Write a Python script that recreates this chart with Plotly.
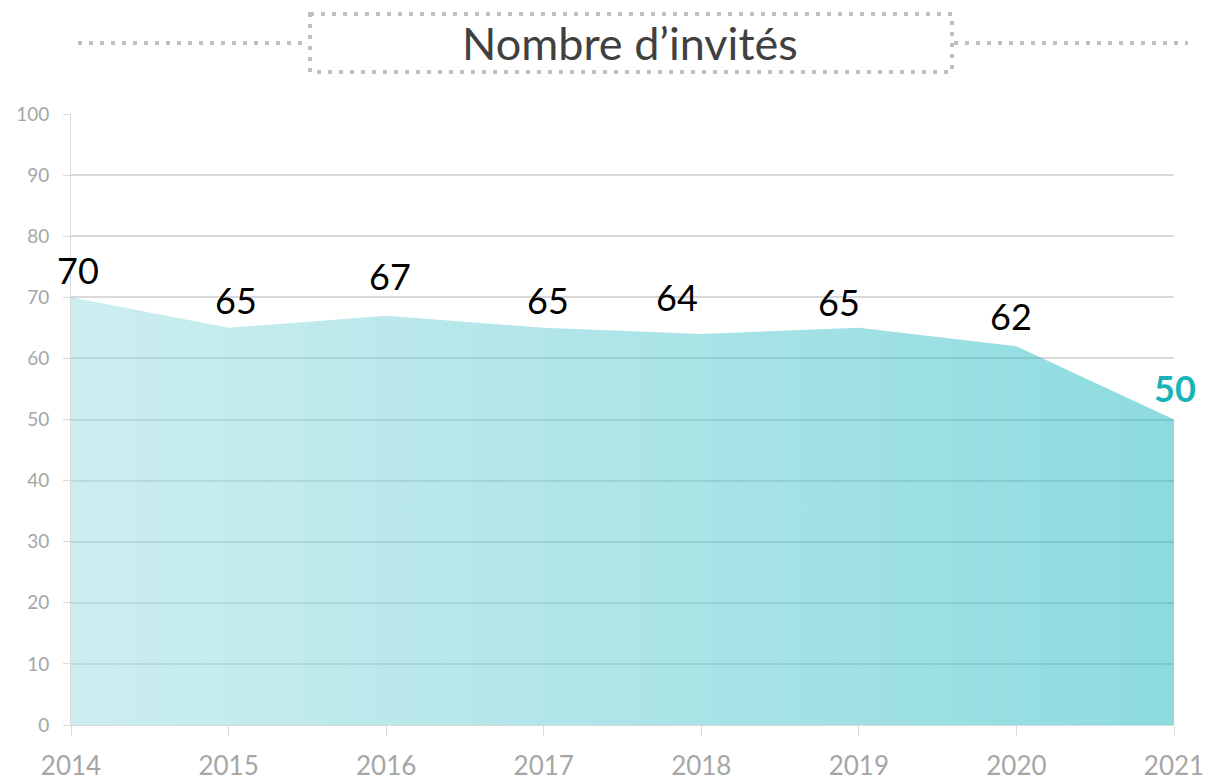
import plotly.graph_objects as go

years = [2014, 2015, 2016, 2017, 2018, 2019, 2020, 2021]
guests = [70, 65, 67, 65, 64, 65, 62, 50]
title_text = "Nombre d’invités"

# label offsets in px (dx, dy) relative to the point
label_dx = [7, 7, 4, 4, -24, -20, -5, 1]
label_dy = [27, 28, 40, 28, 37, 26, 30, 32]

W, H = 1210, 781
ML, MR, MT, MB = 71, 36, 114, 56
PW, PH = W - ML - MR, H - MT - MB

def px_x(p):
    return (p - ML) / PW

def px_y(p):
    return (H - MB - p) / PH

fig = go.Figure()
fig.add_trace(go.Scatter(
    x=years, y=guests, mode="lines", fill="tozeroy",
    line=dict(width=0, color="rgba(0,0,0,0)"),
    fillgradient=dict(
        type="horizontal",
        colorscale=[[0, "rgba(155,221,225,0.5)"], [1, "rgba(27,183,191,0.5)"]],
    ),
    hoverinfo="x+y", showlegend=False,
))

annotations = []
for i, (yr, v) in enumerate(zip(years, guests)):
    last = i == len(years) - 1
    annotations.append(dict(
        x=yr, y=v, xref="x", yref="y", text=f"<b>{v}</b>" if last else str(v),
        showarrow=False, xanchor="center", yanchor="middle",
        xshift=label_dx[i], yshift=label_dy[i],
        font=dict(family="Lato", size=36, color="#1ab3b8" if last else "#000000"),
    ))

annotations.append(dict(
    x=px_x(630), y=px_y(43), xref="paper", yref="paper", text=title_text,
    showarrow=False, xanchor="center", yanchor="middle",
    font=dict(family="Lato", size=45, color="#404040"),
))

dot = dict(color="#bfbfbf", width=4, dash="4px,7px")
shapes = [
    dict(type="rect", xref="paper", yref="paper",
         x0=px_x(310), x1=px_x(952), y0=px_y(14), y1=px_y(72), line=dot),
    dict(type="line", xref="paper", yref="paper",
         x0=px_x(78), x1=px_x(308), y0=px_y(43), y1=px_y(43), line=dot),
    dict(type="line", xref="paper", yref="paper",
         x0=px_x(954), x1=px_x(1188), y0=px_y(43), y1=px_y(43), line=dot),
]

fig.update_layout(
    width=W, height=H,
    margin=dict(l=ML, r=MR, t=MT, b=MB, autoexpand=False),
    plot_bgcolor="white", paper_bgcolor="white",
    annotations=annotations, shapes=shapes,
    xaxis=dict(
        range=[2014, 2021], tickmode="array", tickvals=years,
        ticktext=[str(y) for y in years],
        showgrid=False, zeroline=False, showline=True, linecolor="#d9d9d9", linewidth=1,
        ticks="outside", ticklen=10, tickcolor="#d9d9d9",
        ticklabelstandoff=8,
        tickfont=dict(family="Lato", size=26, color="#a6a6a6"),
    ),
    yaxis=dict(
        range=[0, 100], dtick=10, tick0=0,
        showgrid=True, gridcolor="#d9d9d9", gridwidth=1.5,
        zeroline=False, showline=True, linecolor="#d9d9d9", linewidth=1,
        ticks="outside", ticklen=7, tickcolor="#d9d9d9",
        ticklabelstandoff=10,
        tickfont=dict(family="Lato", size=19, color="#a6a6a6"),
    ),
)

fig.write_html(
    "out.html",
    config={"displayModeBar": False},
    post_script="document.body.style.margin='0';document.body.style.overflow='hidden';",
)
